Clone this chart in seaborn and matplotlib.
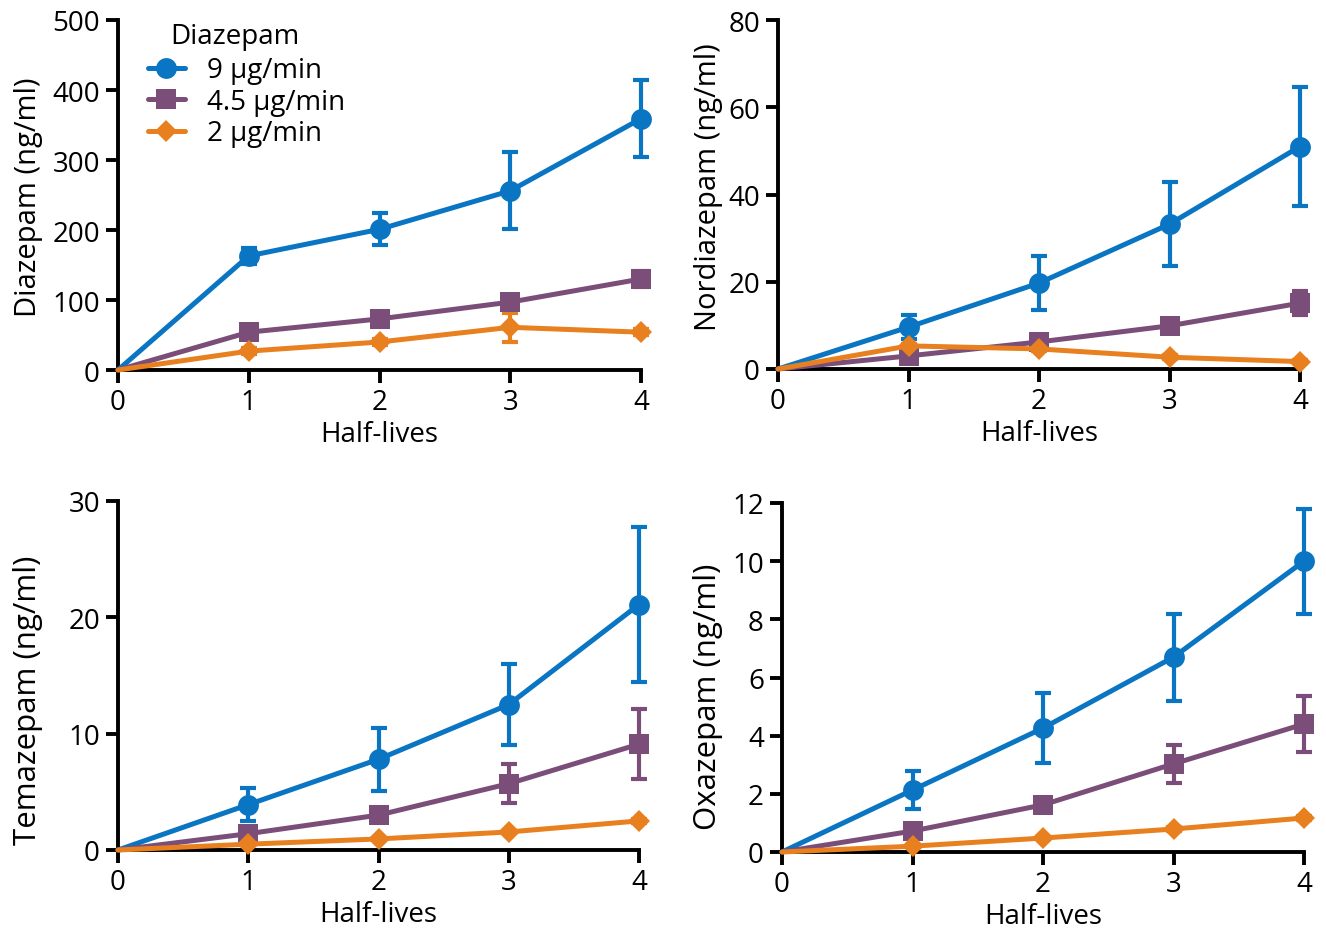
import numpy as np
import pandas as pd
import seaborn as sns
import matplotlib.pyplot as plt
from matplotlib.lines import Line2D

sns.set_style('ticks')
plt.rcParams['font.family'] = ['Open Sans', 'DejaVu Sans']
plt.rcParams['text.color'] = 'black'
plt.rcParams['axes.labelcolor'] = 'black'
plt.rcParams['xtick.color'] = 'black'
plt.rcParams['ytick.color'] = 'black'

half_lives = [0, 1, 2, 3, 4]
doses = ['9 µg/min', '4.5 µg/min', '2 µg/min']

# mean values per dose (9, 4.5, 2 ug/min)
diazepam = [[0, 163, 201, 256, 359], [0, 54, 73, 97, 130], [0, 27, 40, 61, 54]]
diazepam_sd = [[0, 12, 23, 55, 55], [0, 8, 7, 8, 12], [0, 4, 4, 21, 4]]
nordiazepam = [[0, 9.6, 19.7, 33.2, 51.0], [0, 3.0, 6.2, 9.9, 15.1], [0, 5.3, 4.6, 2.7, 1.7]]
nordiazepam_sd = [[0, 2.8, 6.2, 9.6, 13.6], [0, 1.0, 1.0, 1.2, 2.8], [0, 0.5, 0.5, 0.5, 0.4]]
temazepam = [[0, 3.9, 7.8, 12.5, 21.1], [0, 1.4, 3.0, 5.7, 9.1], [0, 0.5, 0.95, 1.55, 2.5]]
temazepam_sd = [[0, 1.4, 2.7, 3.5, 6.7], [0, 0.3, 0.4, 1.7, 3.0], [0, 0.1, 0.1, 0.1, 0.15]]
oxazepam = [[0, 2.13, 4.26, 6.7, 10.0], [0, 0.72, 1.62, 3.03, 4.4], [0, 0.2, 0.48, 0.79, 1.17]]
oxazepam_sd = [[0, 0.65, 1.2, 1.5, 1.8], [0, 0.1, 0.15, 0.65, 0.95], [0, 0.03, 0.04, 0.06, 0.08]]

colors = ['#0a75c2', '#7a4e78', '#e8801f']
markers = ['o', 's', 'D']
msizes = [15, 14, 11]
FS = 20

# label, means, sd, ymax, ystep, axes box (px), ylabel size, ylabel centre (axes coords)
panels = [
    ('Diazepam (ng/ml)', diazepam, diazepam_sd, 500, 100, [118, 21, 641, 371], 21, (-0.172, 0.497)),
    ('Nordiazepam (ng/ml)', nordiazepam, nordiazepam_sd, 80, 20, [778, 21, 1300, 370], 21, (-0.134, 0.524)),
    ('Temazepam (ng/ml)', temazepam, temazepam_sd, 30, 10, [118, 502, 639, 851], 22.5, (-0.173, 0.433)),
    ('Oxazepam (ng/ml)', oxazepam, oxazepam_sd, 12, 2, [782, 504, 1304, 853], 22.5, (-0.142, 0.447)),
]

W, H = 1326, 929
fig = plt.figure(figsize=(W / 100, H / 100), dpi=100)

for label, vals, sds, ymax, ystep, box, lfs, lpos in panels:
    x0, y0, x1, y1 = box
    ax = fig.add_axes([x0 / W, 1 - y1 / H, (x1 - x0) / W, (y1 - y0) / H])
    rows = []
    for d, v in zip(doses, vals):
        for t, y in zip(half_lives, v):
            rows.append({'t': t, 'val': y, 'dose': d})
    df = pd.DataFrame(rows)
    for i, d in enumerate(doses):
        ax.errorbar(half_lives[1:], vals[i][1:], yerr=sds[i][1:], fmt='none',
                    ecolor=colors[i], elinewidth=3, capsize=6, capthick=3,
                    clip_on=False, zorder=2)
    sns.lineplot(data=df, x='t', y='val', hue='dose', hue_order=doses,
                 palette=colors, linewidth=3.6, legend=False, ax=ax, zorder=3)
    for i, line in enumerate(ax.get_lines()[-3:]):
        line.set_marker(markers[i])
        line.set_markersize(msizes[i])
        line.set_markevery([1, 2, 3, 4])
        line.set_markeredgewidth(0)
        line.set_clip_on(False)
    ax.set_xlim(0, 4)
    ax.set_ylim(0, ymax)
    ax.set_xticks(half_lives)
    ax.set_yticks(np.arange(0, ymax + ystep, ystep))
    ax.set_xlabel('Half-lives', fontsize=FS, labelpad=3)
    ax.set_ylabel(label, fontsize=lfs, ha='center', va='center')
    ax.yaxis.set_label_coords(*lpos)
    ax.tick_params(labelsize=FS, width=2.8, length=9, color='black', pad=4)
    for s in ['left', 'bottom']:
        ax.spines[s].set_linewidth(2.8)
        ax.spines[s].set_color('black')
    sns.despine(ax=ax)

    if label.startswith('Diazepam'):
        handles = [Line2D([0], [0], color=colors[i], lw=3.6, marker=markers[i],
                          markersize=msizes[i], markeredgewidth=0) for i in range(3)]
        ax.legend(handles, doses, loc='upper left', bbox_to_anchor=(0.02, 0.952),
                  frameon=False, fontsize=FS, handlelength=1.33, labelspacing=0.13,
                  borderpad=0.2, handletextpad=0.8)
        ax.text(0.0994, 0.954, 'Diazepam', transform=ax.transAxes, fontsize=FS,
                ha='left', va='center')

fig.savefig('out.png', dpi=100)
